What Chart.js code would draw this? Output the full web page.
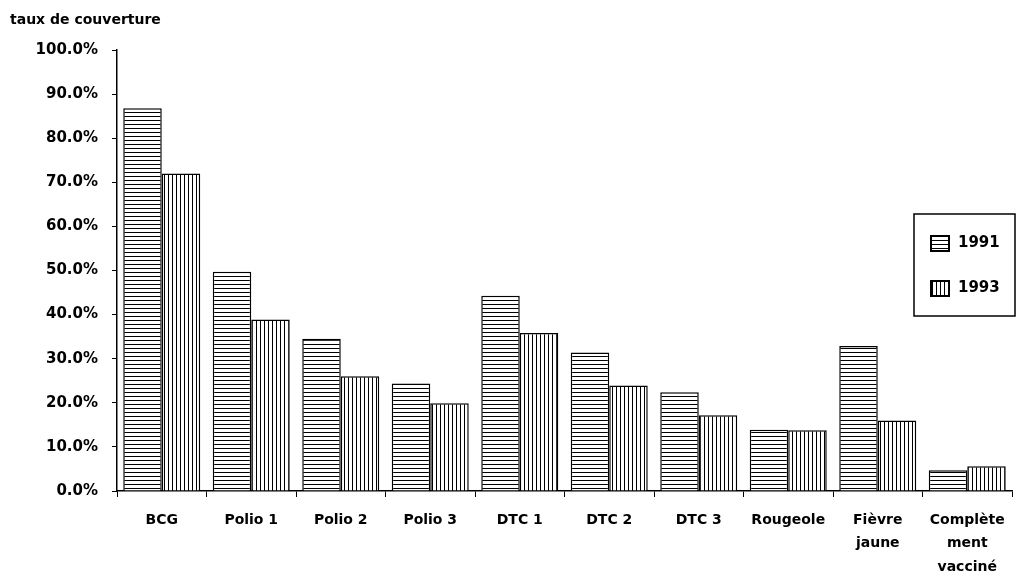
<!DOCTYPE html>
<html>
<head>
<meta charset="utf-8">
<script src="https://cdn.jsdelivr.net/npm/chart.js@4/dist/chart.umd.min.js"></script>
<style>
  html, body { margin: 0; padding: 0; background: #fff; }
  #wrap { width: 1018px; height: 581px; position: relative; }
</style>
</head>
<body>
<div id="wrap"><canvas id="chart"></canvas></div>
<script>
// Vaccination coverage by antigen, 1991 vs 1993
const categories = ['BCG', 'Polio 1', 'Polio 2', 'Polio 3', 'DTC 1', 'DTC 2', 'DTC 3', 'Rougeole', ['Fièvre', 'jaune'], ['Complète', 'ment', 'vacciné']]
const coverage1991 = [86.8, 49.7, 34.5, 24.4, 44.3, 31.4, 22.4, 13.9, 32.9, 4.7]
const coverage1993 = [72.0, 38.9, 26.0, 19.9, 35.8, 23.9, 17.2, 13.8, 16.0, 5.6]
const seriesLabels = ['1991', '1993']
const axisTitle = 'taux de couverture'

const FONT = "'DejaVu Sans', sans-serif"

// Hatch patterns: horizontal lines for 1991, vertical lines for 1993
function makePattern(vertical) {
  const c = document.createElement('canvas')
  c.width = 4
  c.height = 4
  const ctx = c.getContext('2d')
  ctx.fillStyle = '#fff'
  ctx.fillRect(0, 0, 4, 4)
  ctx.fillStyle = '#000'
  if (vertical) ctx.fillRect(0, 0, 1, 4)
  else ctx.fillRect(0, 0, 4, 1)
  return ctx.createPattern(c, 'repeat')
}
const hPattern = makePattern(false)
const vPattern = makePattern(true)

// Boxed legend drawn inside the plot, on the right
const boxLegend = {
  id: 'boxLegend',
  afterDraw(chart) {
    const ctx = chart.ctx
    const x = 914, y = 214, w = 101, h = 102
    ctx.save()
    ctx.fillStyle = '#fff'
    ctx.fillRect(x, y, w, h)
    ctx.strokeStyle = '#000'
    ctx.lineWidth = 1.5
    ctx.strokeRect(x, y, w, h)
    ctx.font = 'bold 15px ' + FONT
    ctx.textBaseline = 'middle'
    chart.data.datasets.forEach((ds, i) => {
      const cy = 243 + i * 45
      ctx.fillStyle = ds.backgroundColor
      ctx.fillRect(931, cy - 7, 18, 15)
      ctx.lineWidth = 2
      ctx.strokeRect(931, cy - 7, 18, 15)
      ctx.fillStyle = '#000'
      ctx.fillText(ds.label, 958, cy)
    })
    ctx.restore()
  }
}

new Chart(document.getElementById('chart'), {
  type: 'bar',
  data: {
    labels: categories,
    datasets: [
      {
        label: seriesLabels[0],
        data: coverage1991,
        backgroundColor: hPattern,
        borderColor: '#000',
        borderWidth: 1.5,
        borderSkipped: 'bottom'
      },
      {
        label: seriesLabels[1],
        data: coverage1993,
        backgroundColor: vPattern,
        borderColor: '#000',
        borderWidth: 1.5,
        borderSkipped: 'bottom'
      }
    ]
  },
  options: {
    responsive: true,
    maintainAspectRatio: false,
    animation: false,
    layout: { padding: { left: 10, right: 6, top: 0, bottom: 0 } },
    datasets: {
      bar: { categoryPercentage: 0.86, barPercentage: 1.0 }
    },
    plugins: {
      legend: { display: false },
      tooltip: { enabled: false },
      title: {
        display: true,
        text: axisTitle,
        align: 'start',
        color: '#000',
        font: { family: FONT, size: 14, weight: 'bold' },
        padding: { top: 12, bottom: 21.2 }
      }
    },
    scales: {
      x: {
        afterFit(scale) { scale.height = 90 },
        grid: {
          offset: true,
          drawOnChartArea: false,
          drawTicks: true,
          tickLength: 6,
          color: '#000',
          lineWidth: 1
        },
        border: { display: true, color: '#000', width: 1.5 },
        ticks: {
          color: '#000',
          maxRotation: 0,
          autoSkip: false,
          padding: 11,
          font: { family: FONT, size: 14, weight: 'bold', lineHeight: 1.7 }
        }
      },
      y: {
        min: 0,
        max: 100,
        afterFit(scale) { scale.width = 107 },
        grid: {
          drawOnChartArea: false,
          drawTicks: true,
          tickLength: 5,
          color: '#000',
          lineWidth: 1
        },
        border: { display: true, color: '#000', width: 1.5 },
        ticks: {
          stepSize: 10,
          color: '#000',
          padding: 14,
          font: { family: FONT, size: 15, weight: 'bold' },
          callback: value => value.toFixed(1) + '%'
        }
      }
    }
  },
  plugins: [boxLegend]
})
</script>
</body>
</html>
